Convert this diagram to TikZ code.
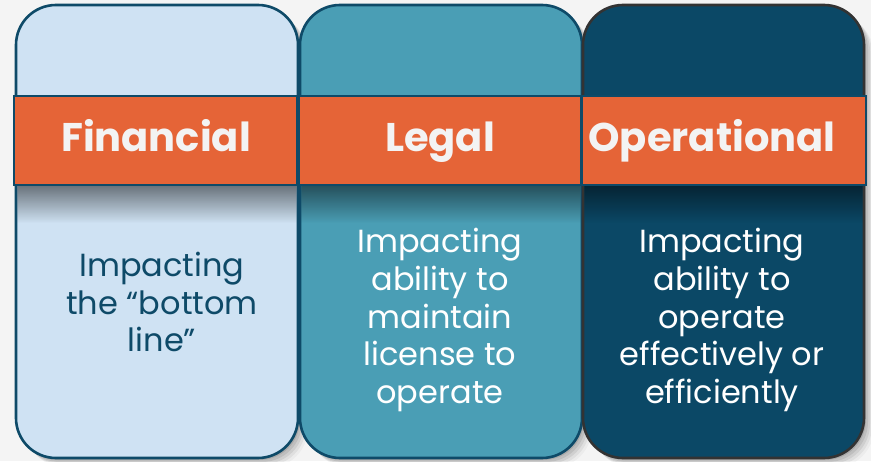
\documentclass[tikz,border=0pt]{standalone}
\usepackage{fontspec}
\setmainfont{Poppins}
\usetikzlibrary{fadings}

\definecolor{pagebg}{HTML}{F4F4F4}
\definecolor{paleblue}{HTML}{CFE2F3}
\definecolor{teal}{HTML}{4A9EB5}
\definecolor{navy}{HTML}{0B4866}
\definecolor{edge}{HTML}{0E4A68}
\definecolor{band}{HTML}{E56437}
\definecolor{bandtext}{HTML}{F3F3F3}
\definecolor{darktext}{HTML}{0E4A68}

\tikzset{
  x=1pt, y=1pt,
  panel/.style={draw=edge, line width=2.6pt, rounded corners=40pt},
  bandbox/.style={draw=edge, line width=2.6pt, fill=band},
  title/.style={font=\fontsize{40}{44}\bfseries\selectfont, text=bandtext, anchor=base, inner sep=0pt},
  body/.style={font=\fontsize{32}{37.6}\selectfont, align=center, anchor=center},
}

\begin{document}
\begin{tikzpicture}
\useasboundingbox[fill=pagebg] (0,0) rectangle (871,461);

% soft drop shadows of the three panels
\foreach \xa/\xb in {16/298, 300/582, 583/864} {
  \foreach \d/\o in {2/0.10, 4/0.08, 6/0.07, 8/0.05, 10/0.03} {
    \fill[black, opacity=\o, rounded corners=40pt] (\xa+\d,3-\d) rectangle (\xb+\d,456-\d);
  }
}

% panels
\path[panel, fill=paleblue] (16,3) rectangle (298,456);
\path[panel, fill=teal] (300,3) rectangle (582,456);
\path[panel, fill=navy, draw=black!80] (583,3) rectangle (864,456);

% shadow cast by the bands onto each panel
\foreach \xa/\xb in {16/298, 300/582, 583/864} {
  \begin{scope}
    \clip (\xa+1.3,3) rectangle (\xb-1.3,456);
    \fill[black, opacity=0.68, path fading=south] (\xa,290) rectangle (\xb+14,238);
  \end{scope}
}

% coloured bands with the category names
\path[bandbox] (14,276) rectangle (297,365);
\path[bandbox] (299,276) rectangle (581,365);
\path[bandbox] (582,276) rectangle (866,365);

\node[title] (t1) at (156,309.5) {Financial};
\node[title] (t2) at (440,309.5) {Legal};
\node[title] (t3) at (712,309.5) {Operational};

% descriptions
\node[body, text=darktext] (d1) at (162,159) {Impacting\\the “bottom\\line”};
\node[body, text=white] (d2) at (440,141) {Impacting\\ability to\\maintain\\license to\\operate};
\node[body, text=white] (d3) at (722,141) {Impacting\\ability to\\operate\\effectively or\\efficiently};
\end{tikzpicture}
\end{document}
